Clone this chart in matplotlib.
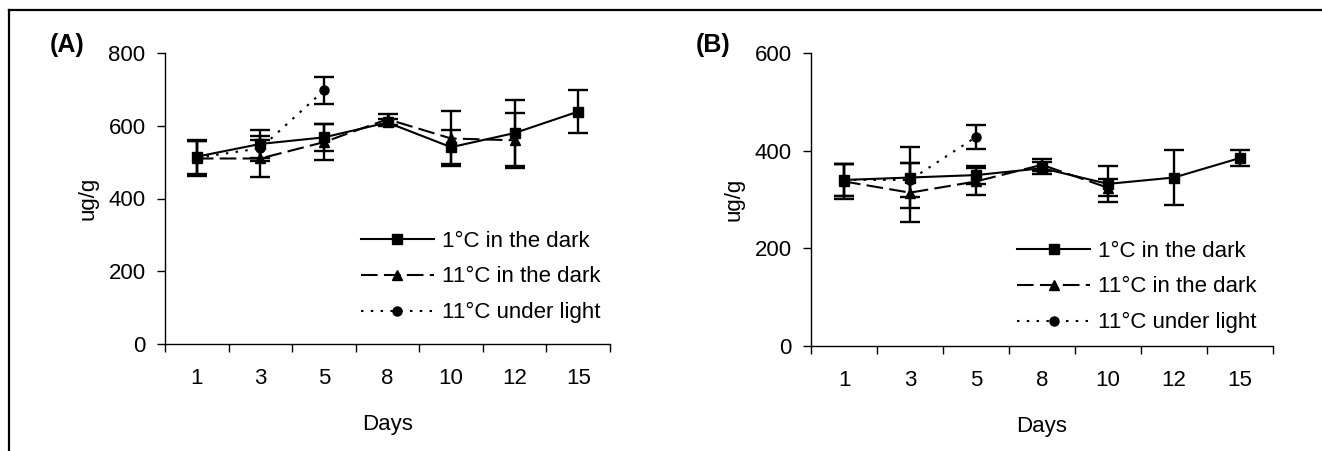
import matplotlib.pyplot as plt
from matplotlib.lines import Line2D

plt.rcParams['font.family'] = ['Liberation Sans', 'DejaVu Sans']

days = ['1', '3', '5', '8', '10', '12', '15']

# panel A (ug/g)
a_dark1 = [515, 550, 568, 609, 541, 580, 639]
a_dark1_err = [47, 39, 37, 10, 46, 90, 58]
a_dark11 = [510, 510, 555, 618, 565, 560]
a_dark11_err = [47, 50, 50, 15, 76, 75]
a_light11 = [512, 538, 697]
a_light11_err = [47, 35, 38]

# panel B (ug/g)
b_dark1 = [340, 345, 350, 364, 332, 345, 385]
b_dark1_err = [33, 63, 18, 12, 37, 57, 17]
b_dark11 = [337, 314, 337, 371, 324]
b_dark11_err = [35, 60, 27, 12, 17]
b_light11 = [340, 340, 428]
b_light11_err = [33, 34, 25]

W, H = 1322, 451
FS = 16
fig = plt.figure(figsize=(W / 100, H / 100), dpi=100)


def add_panel(left, right, top, bottom, ymax, yticks, series, label, leg_xy):
    ax = fig.add_axes([left / W, 1 - bottom / H, (right - left) / W, (bottom - top) / H])
    styles = [
        ('1°C in the dark', 's', '-'),
        ('11°C in the dark', '^', (0, (8, 3))),
        ('11°C under light', 'o', (0, (1.2, 3.5))),
    ]
    for (name, mk, ls), (vals, errs) in zip(styles, series):
        x = list(range(len(vals)))
        ax.errorbar(x, vals, yerr=errs, color='black', marker=mk, markersize=6.5,
                    linestyle=ls, linewidth=1.5, elinewidth=1.7, capsize=7,
                    capthick=1.7, label=name)
    ax.set_xlim(-0.5, len(days) - 0.5)
    ax.set_ylim(0, ymax)
    ax.set_yticks(yticks)
    ax.set_xticks([i - 0.5 for i in range(len(days) + 1)])
    ax.set_xticklabels([])
    ax.set_xticks(range(len(days)), minor=True)
    ax.set_xticklabels(days, minor=True)
    ax.tick_params(axis='x', which='minor', length=0, pad=17, labelsize=FS)
    ax.tick_params(axis='x', which='major', length=6, width=1, direction='out')
    ax.tick_params(axis='y', length=6, width=1, direction='out', labelsize=FS, pad=8)
    for s in ['top', 'right']:
        ax.spines[s].set_visible(False)
    ax.spines['left'].set_linewidth(1)
    ax.spines['bottom'].set_linewidth(1)
    ax.set_xlabel('Days', fontsize=FS, labelpad=18)
    ax.set_ylabel('ug/g', fontsize=FS, labelpad=7)
    handles, labels = ax.get_legend_handles_labels()
    ax.legend([h[0] for h in handles], labels, loc='upper left',
              bbox_to_anchor=leg_xy, frameon=False, fontsize=FS,
              handlelength=3.3, handletextpad=0.35, labelspacing=0.67,
              borderpad=0, borderaxespad=0)
    fig.text((left - 115) / W, 1 - 45 / H, label, fontsize=18, fontweight='bold',
             va='center')
    return ax


add_panel(165, 610, 53, 344, 800, [0, 200, 400, 600, 800],
          [(a_dark1, a_dark1_err), (a_dark11, a_dark11_err), (a_light11, a_light11_err)],
          '(A)', (0.44, 0.39))
add_panel(811, 1273, 53, 346, 600, [0, 200, 400, 600],
          [(b_dark1, b_dark1_err), (b_dark11, b_dark11_err), (b_light11, b_light11_err)],
          '(B)', (0.446, 0.36))

# outer frame (top and left edges only)
fig.add_artist(Line2D([9 / W, 1.0], [1 - 10 / H, 1 - 10 / H], color='black', linewidth=1.6))
fig.add_artist(Line2D([9 / W, 9 / W], [1 - 10 / H, 0.0], color='black', linewidth=1.6))

fig.savefig('out.png', dpi=100)
